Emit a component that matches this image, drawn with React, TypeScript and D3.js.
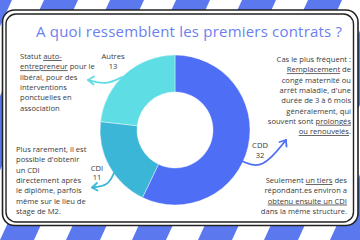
import React from "react";
import * as d3 from "d3";

const categories = ["CDD", "CDI", "Autres"];
const values = [32, 11, 13];
const colors = ["#4f6ef6", "#3cb6d6", "#5fdde4"];

const title = "A quoi ressemblent les premiers contrats ?";

type Seg = { t: string; u?: boolean };
const leftTop: Seg[][] = [
  [{ t: "Statut " }, { t: "auto-", u: true }],
  [{ t: "entrepreneur", u: true }, { t: " pour le" }],
  [{ t: "libéral, pour des" }],
  [{ t: "interventions" }],
  [{ t: "ponctuelles en" }],
  [{ t: "association" }],
];
const leftBottom: Seg[][] = [
  [{ t: "Plus rarement, il est" }],
  [{ t: "possible d'obtenir" }],
  [{ t: "un CDI" }],
  [{ t: "directement après" }],
  [{ t: "le diplôme, parfois" }],
  [{ t: "même sur le lieu de" }],
  [{ t: "stage de M2." }],
];
const rightTop: Seg[][] = [
  [{ t: "Cas le plus fréquent :" }],
  [{ t: "Remplacement", u: true }, { t: " de" }],
  [{ t: "congé maternité ou" }],
  [{ t: "arrêt maladie, d'une" }],
  [{ t: "durée de 3 à 6 mois" }],
  [{ t: "généralement,  qui" }],
  [{ t: "souvent sont " }, { t: "prolongés", u: true }],
  [{ t: "ou renouvelés", u: true }, { t: "." }],
];
const rightBottom: Seg[][] = [
  [{ t: "Seulement " }, { t: "un tiers", u: true }, { t: " des" }],
  [{ t: "répondant.es environ a" }],
  [{ t: "obtenu ensuite un CDI", u: true }],
  [{ t: "dans la même structure." }],
];

const W = 360;
const H = 240;
const FONT = "'Open Sans', Lato, sans-serif";
const TEXT = "#3a3a3a";
const BG_BLUE = "#5b78ef";

function Block({ lines, x, y, anchor, size = 7.6, lh = 10.3 }: { lines: Seg[][]; x: number; y: number; anchor: "start" | "end" | "middle"; size?: number; lh?: number }) {
  return (
    <text x={x} y={y} fontFamily={FONT} fontSize={size} fill={TEXT} textAnchor={anchor}>
      {lines.map((segs, i) => (
        <tspan key={i} x={x} dy={i === 0 ? 0 : lh}>
          {segs.map((s, j) => (
            <tspan key={j} style={s.u ? { textDecoration: "underline" } : undefined}>{s.t}</tspan>
          ))}
        </tspan>
      ))}
    </text>
  );
}

export default function App() {
  const cx = 175, cy = 130, rO = 75, rI = 38;
  const pie = d3.pie<number>().sort(null).startAngle(0).endAngle(2 * Math.PI);
  const arcs = pie(values);
  const arc = d3.arc<d3.PieArcDatum<number>>().innerRadius(rI).outerRadius(rO);

  // background stripes
  const stripes: string[] = [];
  for (let k = -4; k < 12; k++) {
    const x0 = k * 66;
    stripes.push(`M${x0},${H} L${x0 + 34},${H} L${x0 + 34 + 110},0 L${x0 + 110},0 Z`);
  }

  const line = d3.line<[number, number]>().curve(d3.curveBasis);

  return (
    <svg width={W} height={H} style={{ position: "absolute", left: 0, top: 0 }}>
      <rect width={W} height={H} fill="#fff" />
      <g fill={BG_BLUE}>
        {stripes.map((d, i) => <path key={i} d={d} />)}
      </g>
      {/* card */}
      <rect x={2.5} y={10} width={355.5} height={215.5} rx={12} fill="#fff" stroke="#222" strokeWidth={1.6} />
      <rect x={6} y={14} width={347.5} height={208} rx={10} fill="#fff" stroke="#222" strokeWidth={1.4} />

      <text x={189} y={37} textAnchor="middle" fontFamily={FONT} fontSize={15} fill="#6c7ff0" textLength={306} lengthAdjust="spacing">{title}</text>

      <g transform={`translate(${cx},${cy})`}>
        {arcs.map((a, i) => (
          <path key={categories[i]} d={arc(a) || ""} fill={colors[i]} stroke="#fff" strokeWidth={0.4} />
        ))}
      </g>

      {/* labels */}
      <g fontFamily={FONT} fontSize={7.6} fill={TEXT} textAnchor="middle">
        <text x={113} y={58.5}>{categories[2]}</text>
        <text x={113} y={68.5}>{values[2]}</text>
        <text x={97} y={171}>{categories[1]}</text>
        <text x={97} y={180}>{values[1]}</text>
        <text x={260} y={148}>{categories[0]}</text>
        <text x={260} y={157.5}>{values[0]}</text>
      </g>

      {/* arrows */}
      <g fill="none" strokeWidth={1.8} strokeLinecap="round" strokeLinejoin="round">
        <path d={line([[122, 77], [106, 85], [88, 80]]) || ""} stroke={colors[2]} />
        <path d="M88,80 L94,76.5 M88,80 L93.5,84.5" stroke={colors[2]} />
        <path d={line([[114, 173], [108, 186], [92, 187.5]]) || ""} stroke={colors[1]} />
        <path d="M92,187.5 L97,183 M92,187.5 L97.5,190.5" stroke={colors[1]} />
        <path d={line([[242, 161], [262, 170], [286, 140]]) || ""} stroke={colors[0]} />
        <path d="M286,140 L279.5,142 M286,140 L286.5,146.5" stroke={colors[0]} />
      </g>

      <Block lines={leftTop} x={20} y={59} anchor="start" />
      <Block lines={leftBottom} x={16} y={152} anchor="start" />
      <Block lines={rightTop} x={351} y={62} anchor="end" />
      <Block lines={rightBottom} x={347} y={183} anchor="end" />
    </svg>
  );
}
